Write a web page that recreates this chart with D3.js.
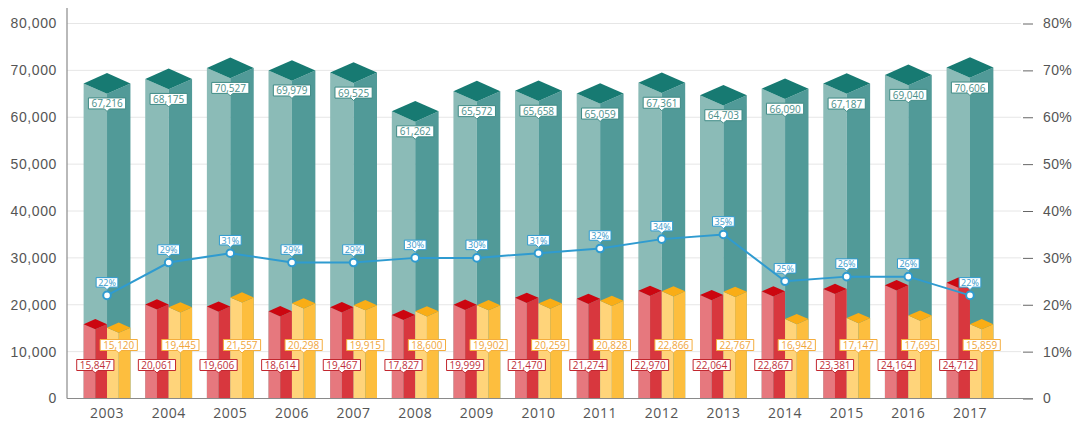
<!DOCTYPE html>
<html>
<head>
<meta charset="utf-8">
<script src="https://cdn.jsdelivr.net/npm/d3@7"></script>
<style>
  html, body { margin: 0; padding: 0; background: #fff; }
  svg { display: block; font-family: "Open Sans", "Noto Sans", sans-serif; }
</style>
</head>
<body>
<svg id="chart" width="1074" height="429"></svg>
<script>
// Yearly totals (teal), two component series (red, yellow) and the share line (%)
const years = ["2003","2004","2005","2006","2007","2008","2009","2010","2011","2012","2013","2014","2015","2016","2017"];
const totalValues = [67216,68175,70527,69979,69525,61262,65572,65658,65059,67361,64703,66090,67187,69040,70606];
const redValues = [15847,20061,19606,18614,19467,17827,19999,21470,21274,22970,22064,22867,23381,24164,24712];
const yellowValues = [15120,19445,21557,20298,19915,18600,19902,20259,20828,22866,22767,16942,17147,17695,15859];
const shareValues = [22,29,31,29,29,30,30,31,32,34,35,25,26,26,22];
const leftTicks = [0,10000,20000,30000,40000,50000,60000,70000,80000];
const rightTicks = [0,10,20,30,40,50,60,70,80];

const svg = d3.select("#chart");
const plotLeft = 67, plotRight = 1021, base = 398.5, plotTop = 23.5;

const x = d3.scaleBand().domain(years).range([76.2, 1000.8]).paddingInner(0.24).paddingOuter(0.12);
const y = d3.scaleLinear().domain([0, 80000]).range([base, plotTop]);
const yPct = d3.scaleLinear().domain([0, 80]).range([base, plotTop]);

const teal = { light: "#8bbbb7", dark: "#519a98", top: "#177a72", stroke: "#3f8b86", text: "#4a8f8a" };
const red = { light: "#e6787e", dark: "#d8373e", top: "#cc0610", stroke: "#c2272f", text: "#c0303a" };
const yellow = { light: "#ffd47a", dark: "#fdbe3e", top: "#f9ad16", stroke: "#f4ad3d", text: "#f0a53a" };
const lineColor = "#2f9bd0";

// gridlines
svg.append("g")
  .selectAll("line")
  .data(leftTicks.filter(d => d > 0))
  .join("line")
  .attr("x1", plotLeft).attr("x2", plotRight)
  .attr("y1", d => y(d)).attr("y2", d => y(d))
  .attr("stroke", "#e6e6e6").attr("stroke-width", 1);

// left axis
const leftAxis = svg.append("g")
  .attr("transform", `translate(${plotLeft},0)`)
  .call(d3.axisLeft(y).tickValues(leftTicks).tickSize(0).tickPadding(10).tickFormat(d3.format(",")));
leftAxis.select(".domain").remove();
leftAxis.selectAll("text").attr("fill", "#555").style("font-size", "14px").style("letter-spacing", "0.6px");
svg.append("line").attr("x1", plotLeft).attr("x2", plotLeft).attr("y1", 8).attr("y2", base)
  .attr("stroke", "#8a8a8a").attr("stroke-width", 1.2);

// right axis
const rightAxis = svg.append("g")
  .attr("transform", `translate(1023,0)`)
  .call(d3.axisRight(yPct).tickValues(rightTicks).tickSize(10).tickPadding(10).tickFormat(d => d === 0 ? "0" : d + "%"));
rightAxis.select(".domain").remove();
rightAxis.selectAll("line").attr("stroke", "#666");
rightAxis.selectAll("text").attr("fill", "#555").style("font-size", "14px").style("letter-spacing", "0.4px");

// draws a 3D column: two side faces and a diamond top centred on the value
function column(g, cx, w, yv, c) {
  const h = w / 2, d = h * 0.44;
  g.append("path").attr("fill", c.light)
    .attr("d", `M${cx - h},${yv}L${cx},${yv + d}L${cx},${base}L${cx - h},${base}Z`);
  g.append("path").attr("fill", c.dark)
    .attr("d", `M${cx},${yv + d}L${cx + h},${yv}L${cx + h},${base}L${cx},${base}Z`);
  g.append("path").attr("fill", c.top)
    .attr("d", `M${cx - h},${yv}L${cx},${yv - d}L${cx + h},${yv}L${cx},${yv + d}Z`);
}

const bw = x.bandwidth();
const bars = svg.append("g");
years.forEach((yr, i) => {
  const cx = x(yr) + bw / 2;
  column(bars, cx, bw, y(totalValues[i]), teal);
});
years.forEach((yr, i) => {
  const cx = x(yr) + bw / 2;
  column(bars, cx - bw / 4, bw / 2, y(redValues[i]), red);
  column(bars, cx + bw / 4, bw / 2, y(yellowValues[i]), yellow);
});

// x axis
svg.append("line").attr("x1", plotLeft).attr("x2", 1033).attr("y1", base).attr("y2", base)
  .attr("stroke", "#8a8a8a").attr("stroke-width", 1.2);
svg.append("g").selectAll("text").data(years).join("text")
  .attr("x", d => x(d) + bw / 2).attr("y", 418)
  .attr("text-anchor", "middle").attr("fill", "#555").style("font-size", "14px").style("letter-spacing", "0.5px")
  .text(d => d);

// callout label: white box with coloured border and a small pointer underneath
function callout(g, cx, cy, text, c, size, padX, hgt) {
  const grp = g.append("g");
  const t = grp.append("text").attr("x", cx).attr("y", cy).attr("text-anchor", "middle")
    .attr("dominant-baseline", "central").attr("fill", c.text)
    .style("font-size", size + "px").text(text);
  const w = t.node().getComputedTextLength() + padX * 2;
  const bx = cx - w / 2, by = cy - hgt / 2;
  grp.insert("path", "text")
    .attr("d", `M${bx},${by}H${bx + w}V${by + hgt}H${cx + 2.5}L${cx},${by + hgt + 2.5}L${cx - 2.5},${by + hgt}H${bx}Z`)
    .attr("fill", "#fff").attr("stroke", c.stroke).attr("stroke-width", 1);
}

const labels = svg.append("g");
years.forEach((yr, i) => {
  const cx = x(yr) + bw / 2;
  callout(labels, cx, y(totalValues[i]) + 20, d3.format(",")(totalValues[i]), teal, 10, 3, 11);
});
years.forEach((yr, i) => {
  const cx = x(yr) + bw / 2;
  callout(labels, cx - bw / 4, 365, d3.format(",")(redValues[i]), red, 10, 3, 11);
  callout(labels, cx + bw / 4, 345, d3.format(",")(yellowValues[i]), yellow, 10, 3, 11);
});

// share line
const line = d3.line().x((d, i) => x(years[i]) + bw / 2).y(d => yPct(d));
svg.append("path").datum(shareValues).attr("d", line)
  .attr("fill", "none").attr("stroke", lineColor).attr("stroke-width", 2);
svg.append("g").selectAll("circle").data(shareValues).join("circle")
  .attr("cx", (d, i) => x(years[i]) + bw / 2).attr("cy", d => yPct(d)).attr("r", 3.8)
  .attr("fill", "#fff").attr("stroke", lineColor).attr("stroke-width", 2);
const blue = { stroke: lineColor, text: "#3a9acb" };
shareValues.forEach((v, i) => {
  const cx = x(years[i]) + bw / 2;
  callout(labels, cx, yPct(v) - 13, v + "%", blue, 9, 2, 9.5);
});
</script>
</body>
</html>
